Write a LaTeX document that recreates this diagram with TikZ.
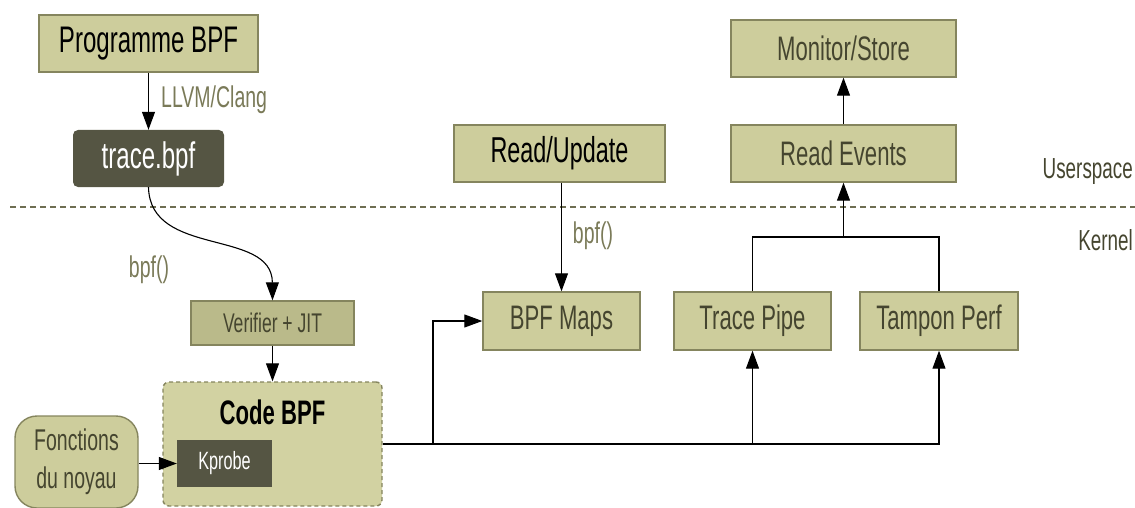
\documentclass[tikz,border=0pt]{standalone}
\usepackage{fontspec}
\setmainfont[FakeStretch=0.65]{Liberation Sans}
\usetikzlibrary{arrows.meta}
\definecolor{boxfill}{HTML}{CDCD9C}
\definecolor{boxline}{HTML}{85855E}
\definecolor{darkfill}{HTML}{555543}
\definecolor{verfill}{HTML}{BABA8A}
\definecolor{codefill}{HTML}{D2D2A2}
\definecolor{txtdark}{HTML}{45452F}
\definecolor{txtlight}{HTML}{7A7A58}
\definecolor{sepline}{HTML}{6E6E52}
\tikzset{
  bx/.style args={#1/#2}{draw=boxline, line width=1.4pt, fill=boxfill, inner sep=0pt,
     minimum width=#1pt, minimum height=#2pt, text=txtdark, font=\fontsize{34}{36}\selectfont},
  bigtxt/.style={text=black, font=\fontsize{37}{39}\selectfont},
  darkbx/.style args={#1/#2}{draw=none, fill=darkfill, inner sep=0pt,
     minimum width=#1pt, minimum height=#2pt, text=white},
  arr/.style={line width=1.1pt, draw=black, -{Triangle[width=13pt,length=18pt]}},
  conn/.style={line width=1.1pt, draw=black},
  lbl/.style={text=txtlight, font=\fontsize{30}{32}\selectfont, inner sep=0pt},
  side/.style={text=txtdark, font=\fontsize{29}{31}\selectfont, inner sep=0pt},
}
\begin{document}
\begin{tikzpicture}[x=1pt,y=-1pt]
\useasboundingbox (0,0) rectangle (1135,508);
% separator
\draw[sepline, line width=1.8pt, dash pattern=on 6pt off 4pt] (10,207) -- (1135,207);
\node[side, anchor=east] (us) at (1133,172) {Userspace};
\node[side, anchor=east] (kn) at (1133,240) {Kernel};
% left column
\node[bx=219/57, bigtxt] (prog) at (148.5,43.5) {Programme BPF};
\node[darkbx=151/57, rounded corners=5pt, font=\fontsize{37}{39}\selectfont] (trace) at (148.5,158.5) {trace.bpf};
\node[bx=163/44, fill=verfill, font=\fontsize{27}{29}\selectfont] (ver) at (272.5,323) {Verifier + JIT};
\node[bx=219/124, fill=codefill, dashed, dash pattern=on 4pt off 3pt, rounded corners=6pt] (code) at (272.5,444) {};
\node[text=black, font=\bfseries\fontsize{34}{36}\selectfont, inner sep=0pt] (codet) at (272.5,412) {Code BPF};
\node[darkbx=95/47, font=\fontsize{25}{27}\selectfont] (kp) at (224.5,463.5) {Kprobe};
\node[bx=123/92, rounded corners=22pt, font=\fontsize{30}{38}\selectfont, align=center] (fn) at (76.5,462) {Fonctions\\du noyau};
\draw[arr] (prog) -- (trace);
\node[lbl, anchor=west] (llvm) at (161,100) {LLVM/Clang};
\draw[arr] (trace.south) .. controls (150,258) and (272,228) .. (ver.north);
\node[lbl] (bpf1) at (149,270) {bpf()};
\draw[arr] (ver) -- (code);
\draw[arr] (fn.east |- kp.west) -- (kp.west);
% middle / right
\node[bx=211/57, bigtxt, font=\fontsize{36}{38}\selectfont] (ru) at (559.5,153.5) {Read/Update};
\node[bx=157/58] (maps) at (561.5,321) {BPF Maps};
\node[bx=157/58] (pipe) at (752.5,321) {Trace Pipe};
\node[bx=158/58] (perf) at (939,321) {Tampon Perf};
\node[bx=225/57] (ev) at (843.5,153.5) {Read Events};
\node[bx=225/57] (mon) at (843.5,48.5) {Monitor/Store};
\draw[arr] (ru.south -| maps.north) -- (maps.north);
\node[lbl] (bpf2) at (593,236) {bpf()};
\coordinate (j1) at (433,444);
\draw[conn] (code.east) -- (j1);
\draw[arr] (j1) |- (maps.west);
\draw[arr] (j1) -| (pipe.south);
\draw[arr] (j1) -| (perf.south);
\coordinate (j2) at (843.5,237);
\draw[conn] (pipe.north) |- (j2) -| (perf.north);
\draw[arr] (j2) -- (ev.south);
\draw[arr] (ev) -- (mon);
\end{tikzpicture}
\end{document}
